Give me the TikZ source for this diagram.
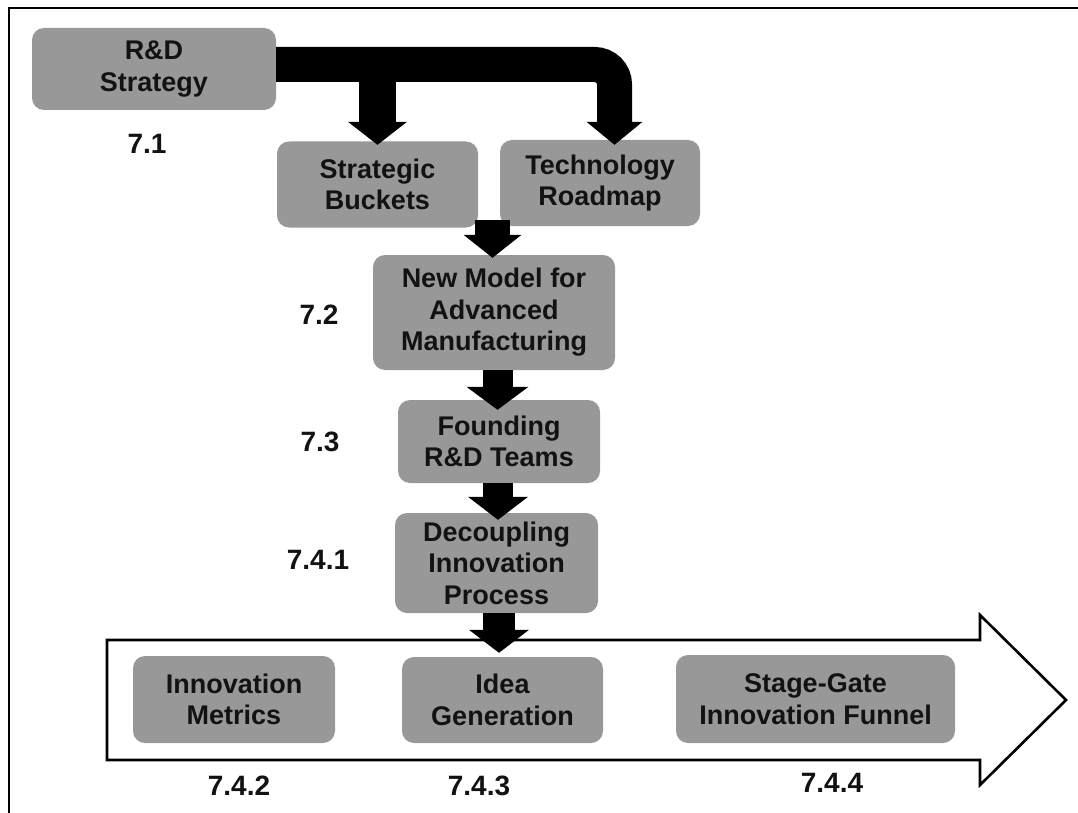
\documentclass[tikz,border=0pt]{standalone}
\usepackage{fontspec}
\setmainfont{Liberation Sans}
\usetikzlibrary{arrows.meta,calc}
\definecolor{boxgray}{RGB}{152,152,152}
\definecolor{ink}{RGB}{18,18,18}
\begin{document}
\begin{tikzpicture}[x=1pt,y=-1pt,
  stage/.style 2 args={fill=boxgray, rounded corners=12pt, align=center,
    inner sep=0pt, minimum width=#1pt, minimum height=#2pt,
    font=\bfseries\fontsize{27}{31.5}\selectfont, text=ink},
  secnum/.style={font=\bfseries\fontsize{28}{32}\selectfont, text=ink},
  blk/.style 2 args={draw=black, line width=#1pt, line cap=butt,
    -{Triangle[width=#2pt,length=23pt,line width=0pt]}},
  frameline/.style={draw=black, line width=2pt}
]
\useasboundingbox (0,0) rectangle (1078,813);

% outer frame (top and left edges)
\draw[frameline] (9,813) -- (9,8) -- (1078,8);

% process arrow along the bottom
\draw[fill=white, draw=black, line width=2.6pt, line join=miter]
  (107,640) -- (980,640) -- (980,615) -- (1066,700) -- (980,785)
  -- (980,760) -- (107,760) -- cycle;

% stage boxes
\node[stage={244}{82}]  (rd) at (154,69)    {R\&D\\Strategy};
\node[stage={201}{86}]  (bk) at (377.5,184.5) {Strategic\\Buckets};
\node[stage={200}{86}]  (tm) at (600,183)   {Technology\\Roadmap};
\node[stage={242}{115}] (nm) at (494,312.5) {New Model for\\Advanced\\Manufacturing};
\node[stage={202}{83}]  (fd) at (499,441.5) {Founding\\R\&D Teams};
\node[stage={203}{100}] (dc) at (496.5,563) {Decoupling\\Innovation\\Process};
\node[stage={202}{87}]  (im) at (234,699.5) {Innovation\\Metrics};
\node[stage={201}{86}]  (ig) at (502.5,700) {Idea\\Generation};
\node[stage={279}{88}]  (sg) at (815.5,699) {Stage-Gate\\Innovation Funnel};

% section numbers
\node[secnum] (n71)  at (147,144) {7.1};
\node[secnum] (n72)  at (319,315) {7.2};
\node[secnum] (n73)  at (320,442) {7.3};
\node[secnum] (n741) at (318,560) {7.4.1};
\node[secnum] (n742) at (239,786) {7.4.2};
\node[secnum] (n743) at (479,786) {7.4.3};
\node[secnum] (n744) at (832,783) {7.4.4};

% strategy feeds buckets and roadmap
\draw[blk={35}{56}, rounded corners=20pt]
  ($(rd.east)+(0,-4.5)$) -| ($(tm.north)+(14.5,5)$);
\draw[blk={37}{59}] (bk.north |- 0,64.5) -- ($(bk.north)+(0,3.5)$);

% main chain downwards
\draw[blk={35}{58}] ($(nm.north)+(-1.5,-35)$) -- ($(nm.north)+(-1.5,3)$);
\draw[blk={30}{62}] ($(nm.south)+(3.5,0)$) -- ($(fd.north)+(-1.5,10)$);
\draw[blk={30}{60}] ($(fd.south)+(-1,0)$) -- ($(dc.north)+(1.5,7)$);
\draw[blk={32}{60}] ($(dc.south)+(2.5,0)$) -- ($(ig.north)+(-3.5,-4)$);
\end{tikzpicture}
\end{document}
